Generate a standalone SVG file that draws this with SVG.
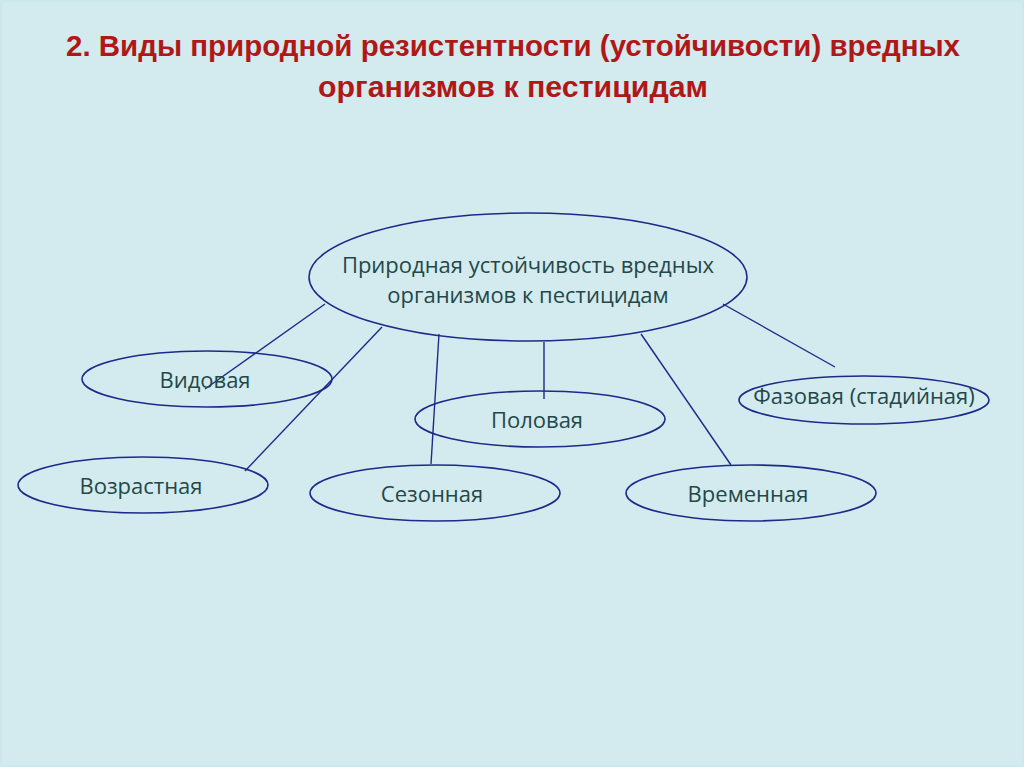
<svg xmlns="http://www.w3.org/2000/svg" width="1024" height="767" viewBox="0 0 1024 767">
<style>
.bg{fill:#d3ebef}
.node{fill:none;stroke:#1c2a8a;stroke-width:1.6}
.lbl{font-family:"Open Sans","Liberation Sans",sans-serif;font-size:22px;fill:#234848;text-anchor:middle}
.ttl{font-family:"Liberation Sans",sans-serif;font-weight:bold;font-size:30px;fill:#b01818;text-anchor:middle}
.edge{stroke:#1c2a8a;stroke-width:1.4;fill:none}
</style>
<rect class="bg" x="0" y="0" width="1024" height="767"/>
<rect x="1" y="1" width="1022" height="765" fill="none" stroke="#c8e6ea" stroke-width="1"/>
<g id="title">
<text class="ttl" x="513" y="56" textLength="894" lengthAdjust="spacingAndGlyphs">2. Виды природной резистентности (устойчивости) вредных</text>
<text class="ttl" x="513" y="97" textLength="390" lengthAdjust="spacingAndGlyphs">организмов к пестицидам</text>
</g>
<g id="connectors">
<line class="edge" x1="325" y1="304" x2="205" y2="389"/>
<line class="edge" x1="382" y1="327" x2="245" y2="471"/>
<line class="edge" x1="439" y1="334" x2="431" y2="464"/>
<line class="edge" x1="544" y1="342" x2="544" y2="399"/>
<line class="edge" x1="641" y1="334" x2="731" y2="465"/>
<line class="edge" x1="723" y1="304" x2="835" y2="367"/>
</g>
<g id="root">
<ellipse class="node" cx="528" cy="277" rx="219" ry="64"/>
<text class="lbl" x="528" y="273">Природная устойчивость вредных</text>
<text class="lbl" x="528" y="303">организмов к пестицидам</text>
</g>
<g id="vidovaya">
<ellipse class="node" cx="207" cy="379" rx="125" ry="28"/>
<text class="lbl" x="205" y="388">Видовая</text>
</g>
<g id="vozrastnaya">
<ellipse class="node" cx="143" cy="485" rx="125" ry="28"/>
<text class="lbl" x="141" y="494">Возрастная</text>
</g>
<g id="polovaya">
<ellipse class="node" cx="540" cy="419" rx="125" ry="28"/>
<text class="lbl" x="537" y="428">Половая</text>
</g>
<g id="sezonnaya">
<ellipse class="node" cx="435" cy="493" rx="125" ry="28"/>
<text class="lbl" x="432" y="502">Сезонная</text>
</g>
<g id="vremennaya">
<ellipse class="node" cx="751" cy="493" rx="125" ry="28"/>
<text class="lbl" x="748" y="502">Временная</text>
</g>
<g id="fazovaya">
<ellipse class="node" cx="864" cy="400" rx="125" ry="24"/>
<text class="lbl" x="864" y="404">Фазовая (стадийная)</text>
</g>
</svg>
